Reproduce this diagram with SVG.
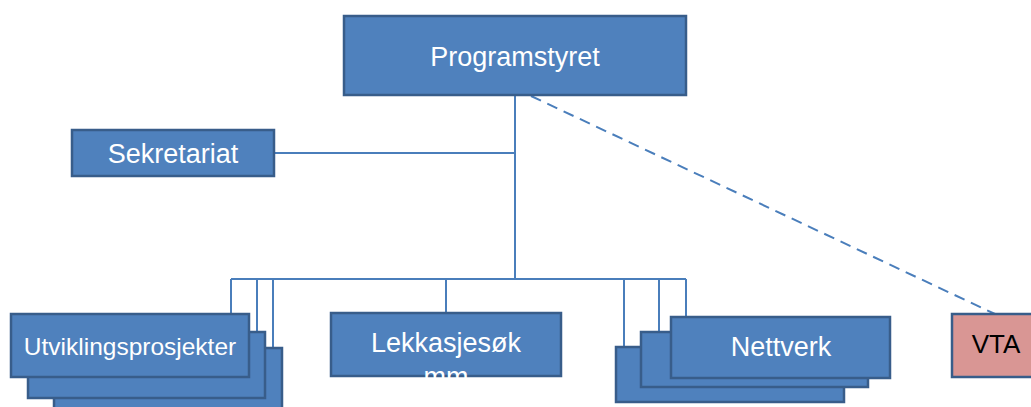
<svg xmlns="http://www.w3.org/2000/svg" width="1031" height="407" viewBox="0 0 1031 407">
  <style>
    .box { fill: #4f81bd; stroke: #385d8a; stroke-width: 2.5; }
    .vta { fill: #d99694; stroke: #385d8a; stroke-width: 2.5; }
    .lbl { font-family: "Liberation Sans", Arial, sans-serif; font-size: 27px; fill: #ffffff; text-anchor: middle; }
    .dark { fill: #000000; }
    .wire { fill: none; stroke: #4a7ebb; stroke-width: 2; }
    .dash { stroke-dasharray: 11 7; }
  </style>
  <rect width="1031" height="407" fill="#ffffff"/>

  <g id="connectors">
    <!-- trunk and bus -->
    <polyline class="wire" points="515,96 515,279"/>
    <polyline class="wire" points="274,153 515,153"/>
    <polyline class="wire" points="231,279 686,279"/>
    <!-- drops to the development stack -->
    <polyline class="wire" points="231,279 231,314"/>
    <polyline class="wire" points="257,279 257,332"/>
    <polyline class="wire" points="273,279 273,348"/>
    <!-- drop to leak detection -->
    <polyline class="wire" points="446,279 446,313"/>
    <!-- drops to the network stack -->
    <polyline class="wire" points="624,279 624,347"/>
    <polyline class="wire" points="659,279 659,332"/>
    <polyline class="wire" points="686,279 686,317"/>
    <!-- advisory link -->
    <line class="wire dash" x1="531" y1="96" x2="995" y2="314"/>
  </g>

  <g id="programstyret">
    <rect class="box" x="344" y="16" width="342" height="79"/>
    <text class="lbl" x="515" y="66">Programstyret</text>
  </g>

  <g id="sekretariat">
    <rect class="box" x="72" y="130" width="202" height="46"/>
    <text class="lbl" x="173" y="163">Sekretariat</text>
  </g>

  <g id="utviklingsprosjekter">
    <rect class="box" x="54" y="348" width="228" height="70"/>
    <rect class="box" x="28" y="332" width="237" height="66"/>
    <rect class="box" x="11" y="314" width="238" height="63"/>
    <text class="lbl" x="130" y="355" style="font-size:24.5px">Utviklingsprosjekter</text>
  </g>

  <g id="lekkasjesok">
    <rect class="box" x="331" y="313" width="230" height="63"/>
    <text class="lbl" x="446" y="352">Lekkasjesøk</text>
    <text class="lbl" x="446" y="386">mm</text>
  </g>

  <g id="nettverk">
    <rect class="box" x="616" y="347" width="228" height="55"/>
    <rect class="box" x="641" y="332" width="227" height="55"/>
    <rect class="box" x="671" y="317" width="219" height="61"/>
    <text class="lbl" x="781" y="356">Nettverk</text>
  </g>

  <g id="vta">
    <rect class="vta" x="952" y="314" width="90" height="63"/>
    <text class="lbl dark" x="996" y="353" style="font-size:26px">VTA</text>
  </g>
</svg>
